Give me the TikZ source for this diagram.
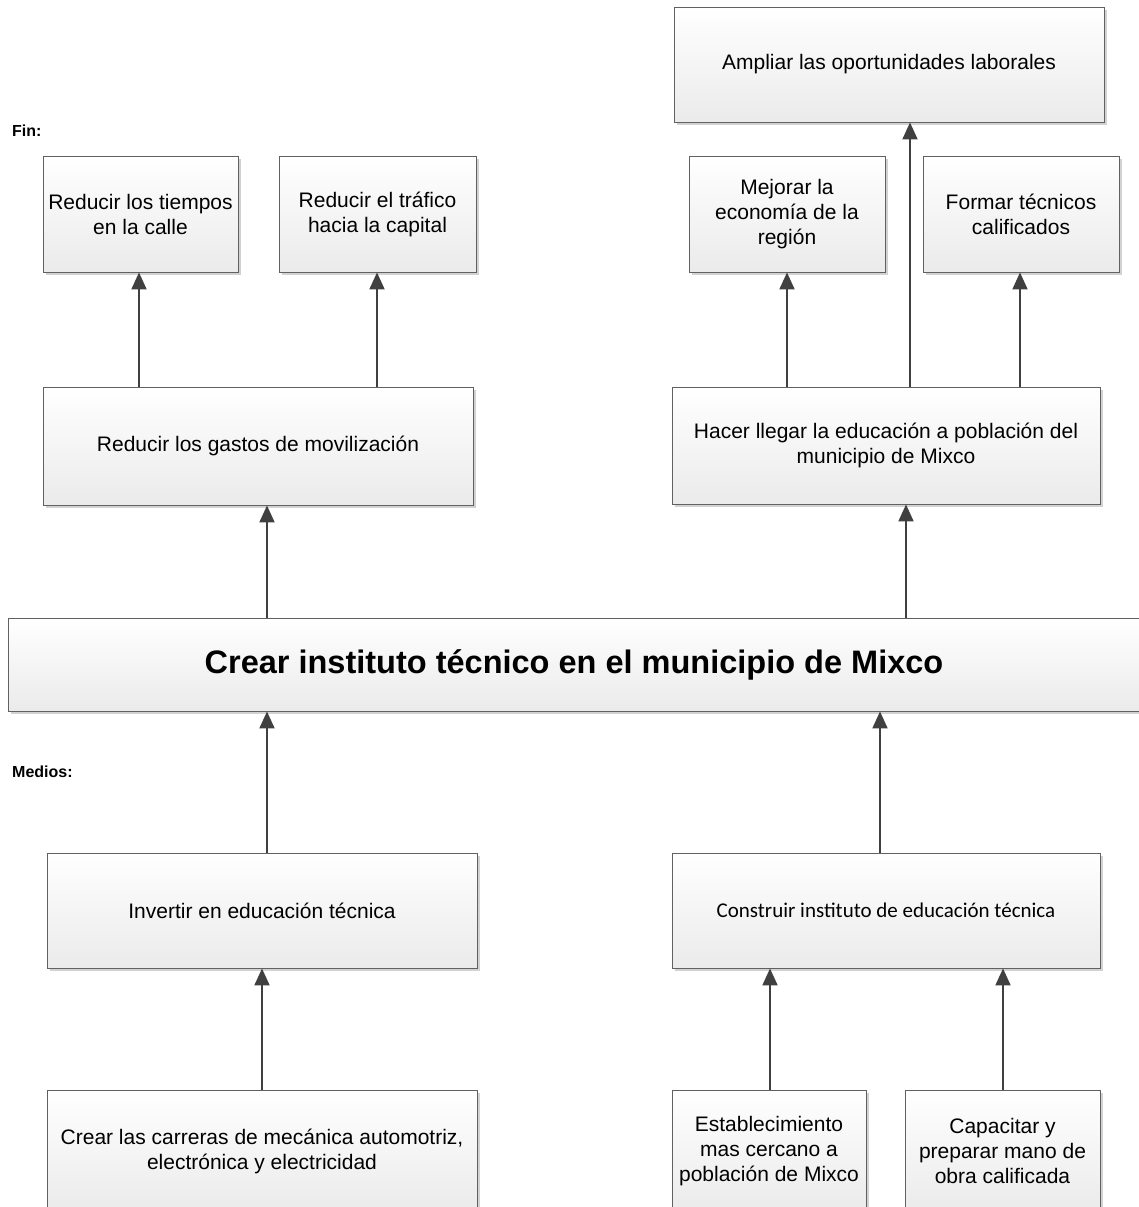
\documentclass[tikz,border=0pt]{standalone}
\usepackage{fontspec}
\setmainfont{Liberation Sans}
\newfontfamily\calibrilike{Carlito}
\usetikzlibrary{arrows.meta,shadows}

\tikzset{
  box/.style={draw=black!62, line width=0.9pt, top color=white, bottom color=black!8,
    drop shadow={shadow xshift=2.5pt, shadow yshift=-3pt, fill=black!22, opacity=0.8},
    align=center, inner sep=0pt, font=\fontsize{21}{25}\selectfont},
  link/.style={draw=black!75, line width=2pt,
    -{Triangle[width=15pt,length=17pt]}},
  caption/.style={anchor=base west, inner sep=0pt, font=\bfseries\fontsize{16}{19}\selectfont}
}

\begin{document}
\begin{tikzpicture}[x=1pt, y=-1pt]
\useasboundingbox (0,0) rectangle (1138,1207);

% section labels
\node[caption] (fin) at (12,136) {Fin:};
\node[caption] (medios) at (12,777) {Medios:};

% ends
\node[box, minimum width=430, minimum height=115] (amp) at (889,64.5) {Ampliar las oportunidades laborales};
\node[box, minimum width=196, minimum height=116] (mej) at (787,214) {Mejorar la\\economía de la\\región};
\node[box, minimum width=196, minimum height=116] (for) at (1021,214) {Formar técnicos\\calificados};
\node[box, minimum width=195, minimum height=116] (tie) at (140.5,214) {Reducir los tiempos\\en la calle};
\node[box, minimum width=197, minimum height=116] (tra) at (377.5,214) {Reducir el tráfico\\hacia la capital};
\node[box, minimum width=430, minimum height=118] (gas) at (258,446) {Reducir los gastos de movilización};
\node[box, minimum width=428, minimum height=117] (hac) at (886,445.5) {Hacer llegar la educación a población del\\municipio de Mixco};

% central objective
\node[box, minimum width=1132, minimum height=93, font=\bfseries\fontsize{32.5}{38}\selectfont] (cen) at (574,664.5) {Crear instituto técnico en el municipio de Mixco};

% means
\node[box, minimum width=430, minimum height=115] (inv) at (262,910.5) {Invertir en educación técnica};
\node[box, minimum width=428, minimum height=115, font=\calibrilike\fontsize{21}{25}\selectfont] (con) at (886,910.5) {Construir instituto de educación técnica};
\node[box, minimum width=430, minimum height=122] (car) at (262,1151) {Crear las carreras de mecánica automotriz,\\electrónica y electricidad};
\node[box, minimum width=194, minimum height=122] (est) at (769,1151) {Establecimiento\\mas cercano a\\población de Mixco};
\node[box, minimum width=195, minimum height=122] (cap) at (1002.5,1151) {Capacitar y\\preparar mano de\\obra calificada};

% connectors
\draw[link] (gas.north -| 139,0) -- (tie.south -| 139,0);
\draw[link] (gas.north -| 377,0) -- (tra.south -| 377,0);
\draw[link] (hac.north -| 787,0) -- (mej.south -| 787,0);
\draw[link] (hac.north -| 910,0) -- (amp.south -| 910,0);
\draw[link] (hac.north -| 1020,0) -- (for.south -| 1020,0);
\draw[link] (cen.north -| 267,0) -- (gas.south -| 267,0);
\draw[link] (cen.north -| 906,0) -- (hac.south -| 906,0);
\draw[link] (inv.north -| 267,0) -- (cen.south -| 267,0);
\draw[link] (con.north -| 880,0) -- (cen.south -| 880,0);
\draw[link] (car.north -| 262,0) -- (inv.south -| 262,0);
\draw[link] (est.north -| 770,0) -- (con.south -| 770,0);
\draw[link] (cap.north -| 1003,0) -- (con.south -| 1003,0);
\end{tikzpicture}
\end{document}
